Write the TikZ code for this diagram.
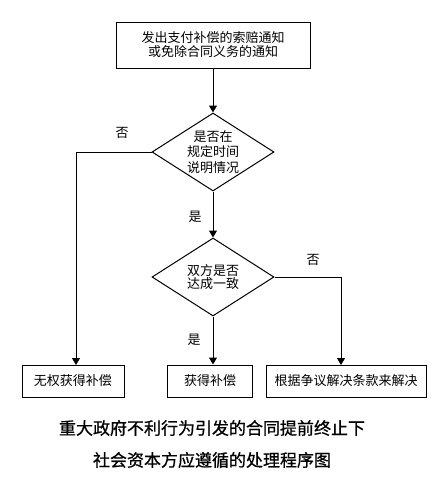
\documentclass[tikz,border=0pt]{standalone}
\usepackage{fontspec}
\setmainfont{Noto Sans CJK SC}
\newfontfamily\capfont[FakeBold=0.8]{Noto Sans CJK SC}
\usetikzlibrary{shapes.geometric,arrows.meta}
\begin{document}
\begin{tikzpicture}[x=1pt,y=-1pt,
 line/.style={line width=1pt},
 arr/.style={line, -{Triangle[width=8pt,length=7pt]}},
 box/.style={draw,line width=1pt,inner sep=0pt,align=center,font=\fontsize{13}{14}\selectfont},
 dia/.style={draw,diamond,line width=1pt,inner sep=0pt,aspect=1.56,minimum width=122pt,minimum height=78pt,align=center},
 lab/.style={font=\fontsize{13}{14}\selectfont},
 captext/.style={font=\capfont\fontsize{17}{20}\selectfont}]
\useasboundingbox (0,0) rectangle (443,490);
\node[box,minimum width=194pt,minimum height=46pt] (start) at (213,45) {发出支付补偿的索赔通知\\或免除合同义务的通知};
\node[dia,font=\fontsize{13}{15.8}\selectfont] (d1) at (213,152) {是否在\\规定时间\\说明情况};
\node[dia,font=\fontsize{13}{13.3}\selectfont] (d2) at (213,277) {双方是否\\达成一致};
\node[box,minimum width=102pt,minimum height=32pt] (l) at (73,381) {无权获得补偿};
\node[box,minimum width=85pt,minimum height=32pt] (m) at (210,381) {获得补偿};
\node[box,minimum width=160pt,minimum height=32pt] (r) at (346,381) {根据争议解决条款来解决};
\coordinate (lt) at (76,365);
\coordinate (rt) at (341,365);
\draw[arr] (start.south) -- (d1.north);
\draw[arr] (d1.south) -- (d2.north);
\draw[arr] (d1.west) -| (lt);
\draw[arr] (d2.east) -| (rt);
\draw[arr] (d2.south) -- (d2.south |- m.north);
\node[lab] (n1) at (122,133) {否};
\node[lab] (y1) at (195,217) {是};
\node[lab] (n2) at (313,260) {否};
\node[lab] (y2) at (194,340) {是};
\node[captext] (c1) at (212,428) {重大政府不利行为引发的合同提前终止下};
\node[captext] (c2) at (212,460) {社会资本方应遵循的处理程序图};
\end{tikzpicture}
\end{document}
